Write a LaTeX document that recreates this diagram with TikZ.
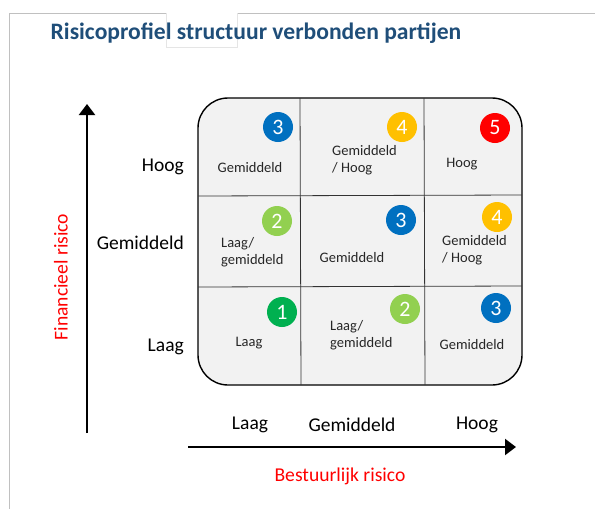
\documentclass[tikz,border=0pt]{standalone}
\usepackage{fontspec}
\setmainfont{Carlito}
\usetikzlibrary{arrows.meta}
\definecolor{titleblue}{HTML}{1F4E79}
\definecolor{cblue}{HTML}{0070C0}
\definecolor{cyellow}{HTML}{FFC000}
\definecolor{cred}{HTML}{FF0000}
\definecolor{clgreen}{HTML}{92D050}
\definecolor{cgreen}{HTML}{00B050}
\definecolor{cellfill}{HTML}{F2F2F2}
\definecolor{framegray}{HTML}{C0C0C0}
\tikzset{
  badge/.style={circle, minimum size=30pt, inner sep=0pt, text=white, font=\fontsize{22}{22}\selectfont},
  celltext/.style={font=\fontsize{14.5}{16.5}\selectfont, align=left, inner sep=0pt, text=black!85},
  axislabel/.style={font=\fontsize{19.5}{21}\selectfont, inner sep=0pt},
  axistitle/.style={font=\fontsize{19.6}{21}\selectfont, text=cred, inner sep=0pt},
  axisarrow/.style={line width=2.2pt, -{Triangle[length=11pt,width=16pt]}},
  divider/.style={line width=0.8pt, black!80},
}
\begin{document}
\begin{tikzpicture}[x=1pt,y=-1pt]
\useasboundingbox (0,0) rectangle (595,509);
% frame
\draw[framegray, line width=1pt] (9,509) -- (9,13) -- (166,13);
\draw[framegray, line width=1pt] (237,13) -- (595,13);
\draw[black!10, line width=0.6pt] (166,13) -- (166,47) -- (237,47) -- (237,13);
% title
\node[font=\fontsize{23.6}{25}\selectfont\bfseries, text=titleblue, inner sep=0pt] (title) at (256,33) {Risicoprofiel structuur verbonden partijen};
% grid
\draw[fill=cellfill, line width=1.4pt, rounded corners=30pt] (198,98) rectangle (522,385);
\draw[divider] (300,98) -- (301,385);
\draw[divider] (424,98) -- (425,385);
\draw[divider] (198,196) -- (522,195);
\draw[divider] (198,287) -- (522,286);
% cell texts
\node[celltext] (c11) at (250,168) {Gemiddeld};
\node[celltext, anchor=west] (c12) at (332,160) {Gemiddeld\\/ Hoog};
\node[celltext] (c13) at (462,164) {Hoog};
\node[celltext, anchor=west] (c21) at (221,252) {Laag/\\gemiddeld};
\node[celltext] (c22) at (352,258) {Gemiddeld};
\node[celltext, anchor=west] (c23) at (442,250) {Gemiddeld\\/ Hoog};
\node[celltext] (c31) at (249,343) {Laag};
\node[celltext, anchor=west] (c32) at (330,335) {Laag/\\gemiddeld};
\node[celltext] (c33) at (472,345) {Gemiddeld};
% badges
\node[badge, fill=cblue] (b11) at (278,127) {3};
\node[badge, fill=cyellow] (b12) at (402,127) {4};
\node[badge, fill=cred] (b13) at (495,128) {5};
\node[badge, fill=clgreen] (b21) at (277,221) {2};
\node[badge, fill=cblue] (b22) at (401,220) {3};
\node[badge, fill=cyellow] (b23) at (497,217) {4};
\node[badge, fill=cgreen] (b31) at (282,312) {1};
\node[badge, fill=clgreen] (b32) at (405,309) {2};
\node[badge, fill=cblue] (b33) at (496,308) {3};
% axes
\coordinate (ybot) at (87,433);
\coordinate (ytop) at (87,104);
\coordinate (xleft) at (188,447);
\coordinate (xright) at (516,447);
\draw[axisarrow] (ybot) -- (ytop);
\draw[axisarrow] (xleft) -- (xright);
\node[axislabel, anchor=east] (yh) at (184,167) {Hoog};
\node[axislabel, anchor=east] (ym) at (184,243) {Gemiddeld};
\node[axislabel, anchor=east] (yl) at (184,347) {Laag};
\node[axislabel] (xl) at (250,425) {Laag};
\node[axislabel] (xm) at (352,425) {Gemiddeld};
\node[axislabel] (xh) at (477,425) {Hoog};
\node[axistitle, rotate=90] (ytitle) at (61,277) {Financieel risico};
\node[axistitle] (xtitle) at (340,476) {Bestuurlijk risico};
\end{tikzpicture}
\end{document}
